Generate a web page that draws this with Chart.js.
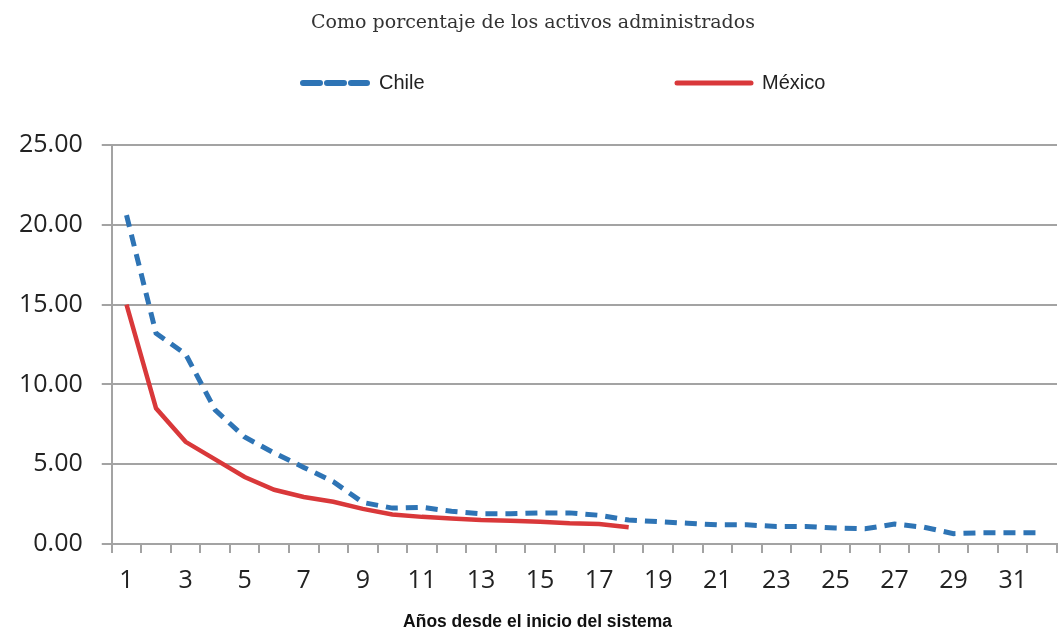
<!DOCTYPE html>
<html>
<head>
<meta charset="UTF-8">
<script src="https://cdn.jsdelivr.net/npm/chart.js"></script>
<style>
  body { margin: 0; background: #fff; }
  #wrap { position: relative; width: 1061px; height: 634px; overflow: hidden; }
  #chart { position: absolute; left: 0; top: 0; }
  .title { position: absolute; left: 0; width: 1066px; top: 10px; text-align: center;
    font-family: "DejaVu Serif", serif; font-size: 19px; color: #333; }
  .legend { position: absolute; top: 71px; font-family: "Liberation Sans", Arial, sans-serif;
    font-size: 20px; color: #222; display: flex; align-items: center; }
  .legend svg { margin-right: 8px; }
  .xtitle { position: absolute; left: 0; width: 1075px; top: 611px; text-align: center;
    font-family: "Liberation Sans", Arial, sans-serif; font-size: 18px; font-weight: bold; color: #111;
    transform: scaleX(0.97); }
</style>
</head>
<body>
<div id="wrap">
  <canvas id="chart" width="1061" height="634"></canvas>
  <div class="title">Como porcentaje de los activos administrados</div>
  <div class="legend" style="left:299px">
    <svg width="72" height="12"><line x1="4" y1="6" x2="68" y2="6" stroke="#2e74b5" stroke-width="6" stroke-dasharray="17,7" stroke-linecap="round"/></svg>Chile
  </div>
  <div class="legend" style="left:674px">
    <svg width="80" height="12"><line x1="3" y1="6" x2="77" y2="6" stroke="#d9383a" stroke-width="5" stroke-linecap="round"/></svg>México
  </div>
  <div class="xtitle">Años desde el inicio del sistema</div>
</div>
<script>
  // años desde el inicio del sistema
  const years = Array.from({ length: 32 }, (_, i) => String(i + 1));

  // comisiones como % de activos administrados
  const chile = [20.6, 13.2, 11.9, 8.4, 6.7, 5.7, 4.8, 3.9, 2.6, 2.25,
                 2.3, 2.05, 1.9, 1.9, 1.95, 1.95, 1.8, 1.5, 1.4, 1.3,
                 1.2, 1.2, 1.1, 1.1, 1.0, 0.95, 1.25, 1.05, 0.65, 0.7,
                 0.7, 0.7];
  const mexico = [15.0, 8.5, 6.4, 5.3, 4.2, 3.4, 2.95, 2.65, 2.2, 1.85,
                  1.7, 1.6, 1.5, 1.45, 1.4, 1.3, 1.25, 1.05];

  const yTicks = [0, 5, 10, 15, 20, 25];
  const gridColor = '#a3a3a3';

  new Chart(document.getElementById('chart'), {
    type: 'line',
    data: {
      labels: years,
      datasets: [
        { label: 'Chile', data: chile, borderColor: '#2e74b5', borderWidth: 5,
          borderDash: [12, 8], pointRadius: 0, tension: 0 },
        { label: 'México', data: mexico, borderColor: '#d9383a', borderWidth: 4.5,
          pointRadius: 0, tension: 0 }
      ]
    },
    options: {
      responsive: false,
      animation: false,
      layout: { padding: { top: 145, left: 0, right: 4, bottom: 25 } },
      plugins: { legend: { display: false }, tooltip: { enabled: false } },
      scales: {
        x: {
          offset: true,
          grid: { offset: true, drawOnChartArea: false, color: gridColor, lineWidth: 2, tickLength: 9 },
          border: { color: gridColor, width: 2 },
          ticks: {
            autoSkip: false, maxRotation: 0, padding: 13,
            color: '#222', font: { family: 'Open Sans', size: 25 },
            callback: (v, i) => (i % 2 === 0 ? years[i] : '')
          }
        },
        y: {
          min: yTicks[0], max: yTicks[yTicks.length - 1],
          afterBuildTicks: s => { s.ticks = yTicks.map(v => ({ value: v })); },
          grid: { color: gridColor, lineWidth: 2, tickLength: 10 },
          border: { color: gridColor, width: 2 },
          ticks: {
            padding: 19, color: '#222', font: { family: 'Open Sans', size: 25 },
            callback: v => Number(v).toFixed(2)
          }
        }
      }
    }
  });
</script>
</body>
</html>
